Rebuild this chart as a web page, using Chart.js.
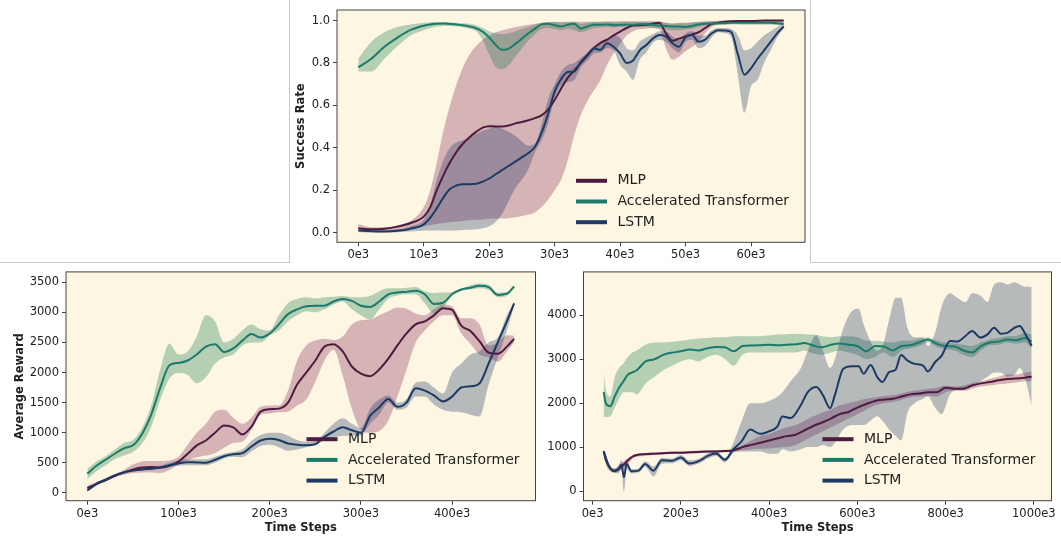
<!DOCTYPE html>
<html>
<head>
<meta charset="utf-8">
<script src="https://cdn.jsdelivr.net/npm/chart.js@4.4.0/dist/chart.umd.min.js"></script>
<style>
  html, body { margin: 0; padding: 0; background: #fff; }
  body { width: 1061px; height: 537px; position: relative; overflow: hidden; }
  .frame { position: absolute; background: #c8c8c8; }
  canvas { position: absolute; }
</style>
</head>
<body>
<div class="frame" style="left:289px;top:0;width:1px;height:262px"></div>
<div class="frame" style="left:0;top:262px;width:290px;height:1px"></div>
<div class="frame" style="left:810px;top:0;width:1px;height:262px"></div>
<div class="frame" style="left:810px;top:262px;width:251px;height:1px"></div>
<canvas id="cTop" width="522" height="262" style="left:289px;top:0"></canvas>
<canvas id="cLeft" width="545" height="275" style="left:0;top:262px"></canvas>
<canvas id="cRight" width="516" height="275" style="left:545px;top:262px"></canvas>
<script>
// ---- data (time steps in thousands, "e3") ----
const topX = [0,2,4,6,8,10,11,12,13,14,15,16,17,18,19,20,21,22,23,24,25,26,27,28,29,30,31,32,33,34,35,36,37,38,39,40,41,42,43,44,45,46,47,48,49,50,51,52,53,54,55,56,57,58,59,60,61,62,63,64,65];
const topMlp = [.02,.015,.018,.028,.045,.075,.12,.2,.27,.33,.38,.42,.45,.475,.495,.502,.5,.5,.505,.515,.522,.53,.54,.553,.58,.625,.68,.73,.765,.8,.835,.87,.895,.91,.93,.948,.965,.977,.978,.98,.985,.99,.94,.905,.915,.925,.935,.945,.965,.985,.99,.995,.997,.998,.998,.998,.999,1,1,1,1];
const topMlpLo = [.01,.008,.008,.01,.02,.03,.035,.04,.045,.05,.052,.055,.058,.06,.062,.065,.066,.066,.068,.072,.078,.085,.095,.12,.155,.2,.25,.34,.46,.555,.62,.67,.72,.79,.845,.89,.93,.95,.96,.962,.965,.96,.87,.815,.83,.855,.875,.9,.94,.97,.98,.985,.99,.99,.99,.99,.99,.99,.99,.99,.99];
const topMlpHi = [.04,.025,.025,.035,.055,.12,.2,.33,.48,.6,.7,.78,.84,.88,.91,.93,.945,.955,.962,.97,.975,.98,.985,.99,.992,.994,.995,.995,.995,.995,.995,.995,.995,.996,.996,.996,.997,.997,.997,.997,.997,.997,.99,.985,.99,.99,.993,.995,.997,.998,.999,1,1,1,1,1,1,1,1,1,1];
const topTr = [.78,.82,.877,.92,.956,.976,.982,.985,.986,.984,.982,.978,.972,.964,.948,.92,.885,.862,.868,.89,.915,.94,.962,.982,.985,.978,.972,.98,.985,.962,.972,.98,.98,.982,.978,.98,.982,.98,.983,.983,.98,.976,.975,.972,.972,.97,.975,.982,.985,.986,.987,.988,.99,.99,.99,.99,.99,.99,.99,.988,.984];
const topTrLo = [.76,.76,.82,.88,.93,.955,.965,.972,.975,.975,.972,.968,.962,.95,.91,.84,.78,.77,.79,.83,.87,.905,.935,.96,.965,.96,.955,.96,.955,.945,.955,.965,.968,.97,.968,.97,.97,.97,.97,.97,.965,.96,.958,.955,.955,.958,.962,.97,.975,.978,.98,.98,.982,.982,.98,.98,.98,.98,.98,.978,.975];
const topTrHi = [.82,.9,.945,.97,.982,.99,.992,.993,.993,.992,.99,.988,.985,.978,.965,.95,.94,.935,.94,.95,.96,.97,.98,.99,.993,.993,.99,.993,.995,.985,.99,.993,.993,.994,.993,.994,.994,.994,.995,.995,.994,.992,.99,.988,.988,.987,.99,.993,.995,.995,.996,.996,.997,.997,.997,.997,.997,.997,.997,.996,.993];
const topLstm = [.01,.006,.005,.008,.018,.038,.07,.115,.165,.205,.222,.228,.228,.23,.24,.255,.275,.295,.315,.335,.355,.375,.405,.47,.56,.665,.725,.758,.76,.805,.838,.868,.862,.893,.877,.845,.8,.812,.86,.885,.915,.932,.925,.893,.877,.922,.932,.9,.91,.94,.955,.953,.945,.84,.745,.775,.82,.86,.9,.94,.972];
const topLstmLo = [.003,0,0,.002,.005,.01,.01,.01,.01,.01,.01,.012,.013,.015,.02,.03,.05,.09,.15,.21,.25,.3,.38,.435,.515,.635,.695,.71,.72,.78,.81,.845,.85,.87,.86,.79,.76,.72,.815,.85,.895,.91,.9,.87,.85,.9,.91,.87,.88,.92,.945,.94,.92,.74,.565,.69,.72,.8,.86,.92,.965];
const topLstmHi = [.02,.015,.012,.015,.03,.06,.13,.25,.34,.4,.425,.435,.45,.465,.48,.49,.5,.49,.475,.455,.43,.41,.42,.51,.63,.7,.76,.79,.8,.825,.85,.88,.89,.91,.93,.92,.87,.86,.9,.92,.935,.95,.95,.925,.91,.94,.95,.93,.93,.955,.965,.965,.96,.93,.86,.87,.9,.93,.95,.97,.98];
const topYTicks = [0,0.2,0.4,0.6,0.8,1.0];
const topXTicks = [0,10,20,30,40,50,60];

const blX = [0,10,20,30,40,50,60,70,80,90,100,110,120,130,140,150,160,170,180,190,200,210,220,230,240,250,260,270,280,290,300,310,320,330,340,350,360,370,380,390,400,410,420,430,440,450,460,468];
const blMlp = [80,150,210,280,340,390,420,430,420,450,520,650,790,870,1000,1120,1090,970,1100,1350,1390,1400,1500,1800,2000,2200,2430,2470,2350,2100,1980,1940,2050,2230,2450,2650,2800,2850,2950,3070,3040,2780,2690,2520,2330,2310,2430,2560];
const blMlpLo = [40,130,190,260,300,330,340,340,330,380,470,540,590,620,660,750,830,850,1050,1300,1320,1340,1350,1450,1550,1850,2200,2380,1950,1400,1050,1000,1030,1200,1600,2050,2500,2700,2850,2950,2950,2650,2480,2300,2250,2180,2350,2500];
const blMlpHi = [120,180,240,300,380,470,520,530,530,540,600,800,1000,1150,1350,1380,1250,1150,1250,1430,1450,1450,1700,2200,2450,2530,2560,2540,2600,2800,2870,2880,2950,3020,3080,3060,2980,2950,3050,3130,3100,2900,2900,2800,2450,2500,2620,2610];
const blTr = [320,450,550,650,740,790,980,1300,1750,2120,2160,2200,2300,2430,2470,2340,2400,2530,2640,2580,2650,2800,2970,3050,3100,3110,3110,3180,3220,3190,3110,3090,3180,3300,3330,3340,3360,3300,3140,3160,3300,3380,3410,3440,3420,3290,3310,3430];
const blTrLo = [230,360,460,560,620,680,820,1100,1550,1900,1990,1960,1820,1920,2150,2250,2300,2450,2500,2500,2620,2700,2850,2950,3020,3000,3050,3130,3180,3050,2950,2880,3050,3230,3280,3300,3300,3150,2980,3080,3280,3360,3380,3400,3370,3250,3270,3400];
const blTrHi = [400,520,610,720,830,880,1080,1450,2050,2480,2300,2350,2600,2950,2850,2500,2560,2700,2800,2720,2700,2950,3150,3220,3250,3230,3250,3260,3270,3250,3250,3270,3350,3400,3400,3410,3420,3350,3320,3330,3340,3400,3450,3480,3460,3330,3340,3450];
const blLstm = [40,150,220,290,340,370,390,400,420,460,490,510,505,500,550,610,640,660,770,870,900,880,820,800,790,810,930,1020,1090,1040,1000,1280,1420,1560,1430,1500,1740,1700,1620,1520,1600,1750,1770,1820,2150,2500,2850,3150];
const blLstmLo = [20,120,200,270,320,350,370,380,400,430,450,460,460,460,500,570,600,590,690,780,800,760,700,720,760,790,880,920,950,950,950,1150,1300,1500,1380,1420,1600,1600,1470,1380,1350,1340,1300,1270,1800,2250,2700,3100];
const blLstmHi = [70,170,240,310,360,390,410,420,450,500,540,560,560,560,600,650,680,720,860,960,1000,1000,950,880,850,860,1000,1150,1240,1150,1080,1400,1550,1620,1500,1560,1830,1850,1750,1650,2000,2150,2300,2350,2500,2580,2950,3180];
const blYTicks = [0,500,1000,1500,2000,2500,3000,3500];
const blXTicks = [0,100,200,300,400];

const brX = [25,30,40,50,60,70,75,80,90,100,120,140,160,180,200,220,240,260,280,300,320,340,360,380,400,420,440,460,480,500,520,540,560,580,600,620,640,660,680,700,720,740,760,780,800,820,840,860,880,900,920,940,960,980,995];
const brMlp = [900,700,520,450,520,600,650,700,780,820,840,850,860,870,870,880,890,900,900,910,930,1000,1050,1100,1150,1200,1250,1280,1380,1480,1560,1650,1750,1800,1900,1980,2050,2080,2100,2150,2200,2220,2250,2250,2350,2330,2330,2400,2450,2480,2520,2550,2560,2580,2600];
const brMlpLo = [850,600,450,420,470,530,570,600,730,780,800,820,830,840,845,850,860,870,870,880,900,930,950,960,970,990,1000,1050,1150,1250,1350,1450,1550,1650,1750,1850,1950,2000,2030,2080,2130,2150,2170,2150,2250,2280,2280,2330,2380,2400,2430,2450,2470,2500,2500];
const brMlpHi = [950,800,550,500,600,680,720,750,820,850,870,880,890,900,900,910,920,930,930,940,960,1050,1150,1250,1300,1380,1450,1500,1600,1700,1780,1850,1950,2000,2050,2100,2130,2160,2180,2220,2270,2300,2330,2350,2400,2380,2400,2460,2500,2550,2600,2650,2650,2700,2720];
const brTr = [2250,1990,1930,2150,2350,2500,2580,2650,2700,2750,2950,3000,3100,3150,3180,3220,3200,3250,3280,3270,3180,3300,3310,3320,3330,3320,3330,3340,3370,3310,3270,3330,3360,3330,3300,3180,3300,3290,3200,3300,3320,3380,3450,3350,3300,3290,3200,3150,3300,3380,3400,3450,3430,3480,3400];
const brTrLo = [1700,1680,1700,1900,2100,2250,2250,2250,2250,2200,2450,2600,2750,2850,2950,3000,2950,3050,3100,3000,2850,3100,3150,3150,3150,3150,3150,3150,3200,3130,3100,3150,3200,3150,3100,3000,3050,3150,3050,3200,3250,3300,3380,3280,3220,3200,3100,3050,3200,3320,3330,3380,3350,3380,3250];
const brTrHi = [2700,2300,2150,2600,2800,2900,2980,3050,3150,3200,3330,3380,3380,3400,3420,3450,3470,3480,3500,3500,3520,3530,3520,3530,3540,3560,3570,3580,3570,3560,3520,3500,3520,3520,3500,3420,3420,3400,3380,3420,3420,3460,3500,3420,3380,3360,3330,3300,3380,3450,3480,3520,3530,3600,3560];
const brLstmX = [25,35,46,58,65,71,77,88,104,119,138,157,180,200,219,242,261,280,300,319,338,357,380,400,419,430,449,472,488,507,522,538,549,568,588,603,614,630,645,657,672,687,699,714,730,749,760,776,791,810,826,845,860,879,895,910,925,941,956,968,979,995];
const brLstm = [912,613,464,479,600,314,613,449,464,613,464,703,688,763,628,688,800,852,710,950,1137,1398,1301,1361,1473,1697,1660,1959,2258,2370,2183,1884,2183,2781,2841,2841,2669,2871,2594,2482,2707,2767,3095,2968,2894,2856,2722,2931,3080,3417,3402,3529,3641,3492,3566,3716,3581,3604,3716,3753,3604,3305];
const brLstmLo = [870,550,420,400,500,-20,500,400,420,550,330,620,630,700,570,630,740,800,650,870,900,900,900,850,850,950,900,950,1000,1000,1050,1000,1100,1400,1500,1500,1500,1600,1700,1600,1400,1250,1150,1800,2000,2100,2150,1900,1750,2200,2300,2300,2400,2500,2600,2700,2700,2600,2650,2800,2600,1950];
const brLstmHi = [950,680,520,560,700,600,680,500,520,680,560,760,740,820,700,740,860,900,760,1100,1600,2000,2000,2050,2150,2250,2500,2800,3200,3550,3200,2800,3000,3700,4100,4150,3800,3400,3200,3300,3900,4400,4400,3700,3500,3500,3300,3600,4200,4500,4400,4300,4500,4450,4300,4700,4750,4700,4750,4700,4650,4650];
const brYTicks = [0,1000,2000,3000,4000];
const brXTicks = [0,200,400,600,800,1000];

const names = ['MLP', 'Accelerated Transformer', 'LSTM'];
const lineColors = ['#4f1a3f', '#1b7a6a', '#1d3a64'];
const bandColors = ['rgba(125,25,80,0.3)', 'rgba(15,115,70,0.3)', 'rgba(20,45,95,0.3)'];

Chart.defaults.font.family = 'DejaVu Sans';
Chart.defaults.color = '#222';

const frameAndLegend = {
  id: 'frameAndLegend',
  beforeDraw(chart) {
    const {ctx, chartArea: a} = chart;
    ctx.save();
    ctx.fillStyle = '#fdf6e3';
    ctx.fillRect(a.left, a.top, a.right - a.left, a.bottom - a.top);
    ctx.restore();
  },
  afterDraw(chart) {
    const {ctx, chartArea: a} = chart;
    ctx.save();
    ctx.strokeStyle = '#444';
    ctx.lineWidth = 1;
    ctx.strokeRect(a.left, a.top, a.right - a.left, a.bottom - a.top);
    ctx.font = '14px "DejaVu Sans"';
    ctx.textBaseline = 'middle';
    chart.data.datasets.filter(d => d.isMean).forEach((d, i) => {
      const y = a.bottom - 61.5 + i * 20.7;
      ctx.strokeStyle = d.borderColor;
      ctx.lineWidth = 4;
      ctx.beginPath();
      ctx.moveTo(a.right - 229, y);
      ctx.lineTo(a.right - 198, y);
      ctx.stroke();
      ctx.fillStyle = '#222';
      ctx.fillText(d.label, a.right - 187.5, y);
    });
    ctx.restore();
  }
};

function pts(xs, ys) {
  return xs.map((x, i) => ({x: x, y: ys[i]}));
}

function seriesSets(series) {
  const out = [];
  // bands first (drawn below), then mean lines
  series.forEach((s, k) => {
    out.push({data: pts(s.x, s.lo), borderWidth: 0, pointRadius: 0, fill: false, order: 20 - k,
              tension: 0.4, cubicInterpolationMode: 'monotone'});
    out.push({data: pts(s.x, s.hi), borderWidth: 0, pointRadius: 0, fill: '-1', order: 20 - k,
              backgroundColor: bandColors[k], tension: 0.4, cubicInterpolationMode: 'monotone'});
  });
  series.forEach((s, k) => {
    out.push({label: names[k], isMean: true, data: pts(s.x, s.mean), borderColor: lineColors[k],
              borderWidth: 2, pointRadius: 0, fill: false, order: 5 - k,
              tension: 0.4, cubicInterpolationMode: 'monotone'});
  });
  return out;
}

const tickFont = {family: 'DejaVu Sans', size: 11.5};
const titleFont = {family: 'DejaVu Sans', size: 11.5, weight: 'bold'};

function makeChart(id, o) {
  return new Chart(document.getElementById(id), {
    type: 'line',
    data: {datasets: seriesSets(o.series)},
    plugins: [frameAndLegend],
    options: {
      responsive: false,
      animation: false,
      events: [],
      layout: {padding: {left: 0, top: o.padTop, right: o.padRight, bottom: 0}},
      plugins: {legend: {display: false}, tooltip: {enabled: false}},
      scales: {
        x: {
          type: 'linear', min: o.xMin, max: o.xMax,
          afterBuildTicks: s => { s.ticks = o.xTicks.map(v => ({value: v})); },
          afterFit: s => { s.height = o.xHeight; },
          ticks: {callback: v => v + 'e3', font: tickFont, color: '#222', padding: 2, maxRotation: 0, autoSkip: false},
          grid: {drawOnChartArea: false, drawTicks: true, tickLength: 4, color: '#444'},
          border: {display: false},
          title: {display: !!o.xTitle, text: o.xTitle || '', font: titleFont, color: '#222',
                  padding: {top: 0, bottom: 2.4}}
        },
        y: {
          type: 'linear', min: o.yMin, max: o.yMax,
          afterBuildTicks: s => { s.ticks = o.yTicks.map(v => ({value: v})); },
          afterFit: s => { s.width = o.yWidth; },
          ticks: {callback: o.yFmt, font: tickFont, color: '#222', padding: 3, autoSkip: false},
          grid: {drawOnChartArea: false, drawTicks: true, tickLength: 4, color: '#444'},
          border: {display: false},
          title: {display: !!o.yTitle, text: o.yTitle || '', font: titleFont, color: '#222',
                  padding: {top: o.yTitlePad || 0, bottom: 0}}
        }
      }
    }
  });
}

makeChart('cTop', {
  series: [
    {x: topX, mean: topMlp, lo: topMlpLo, hi: topMlpHi},
    {x: topX, mean: topTr, lo: topTrLo, hi: topTrHi},
    {x: topX, mean: topLstm, lo: topLstmLo, hi: topLstmHi}
  ],
  xMin: -3.25, xMax: 68.25, yMin: -0.046, yMax: 1.05,
  xTicks: topXTicks, yTicks: topYTicks, yFmt: v => v.toFixed(1),
  padTop: 10, padRight: 6, yWidth: 48, xHeight: 19.7,
  yTitle: 'Success Rate', yTitlePad: 4.8
});

makeChart('cLeft', {
  series: [
    {x: blX, mean: blMlp, lo: blMlpLo, hi: blMlpHi},
    {x: blX, mean: blTr, lo: blTrLo, hi: blTrHi},
    {x: blX, mean: blLstm, lo: blLstmLo, hi: blLstmHi}
  ],
  xMin: -23.4, xMax: 491.4, yMin: -130, yMax: 3672,
  xTicks: blXTicks, yTicks: blYTicks, yFmt: v => String(v),
  padTop: 6.3, padRight: 9.5, yWidth: 66, xHeight: 36.3,
  yTitle: 'Average Reward', yTitlePad: 12.7, xTitle: 'Time Steps'
});

makeChart('cRight', {
  series: [
    {x: brX, mean: brMlp, lo: brMlpLo, hi: brMlpHi},
    {x: brX, mean: brTr, lo: brTrLo, hi: brTrHi},
    {x: brLstmX, mean: brLstm, lo: brLstmLo, hi: brLstmHi}
  ],
  xMin: -20.7, xMax: 1040, yMin: -220, yMax: 4987,
  xTicks: brXTicks, yTicks: brYTicks, yFmt: v => String(v),
  padTop: 6.3, padRight: 9.5, yWidth: 38.5, xHeight: 36.3,
  xTitle: 'Time Steps'
});
</script>
</body>
</html>
